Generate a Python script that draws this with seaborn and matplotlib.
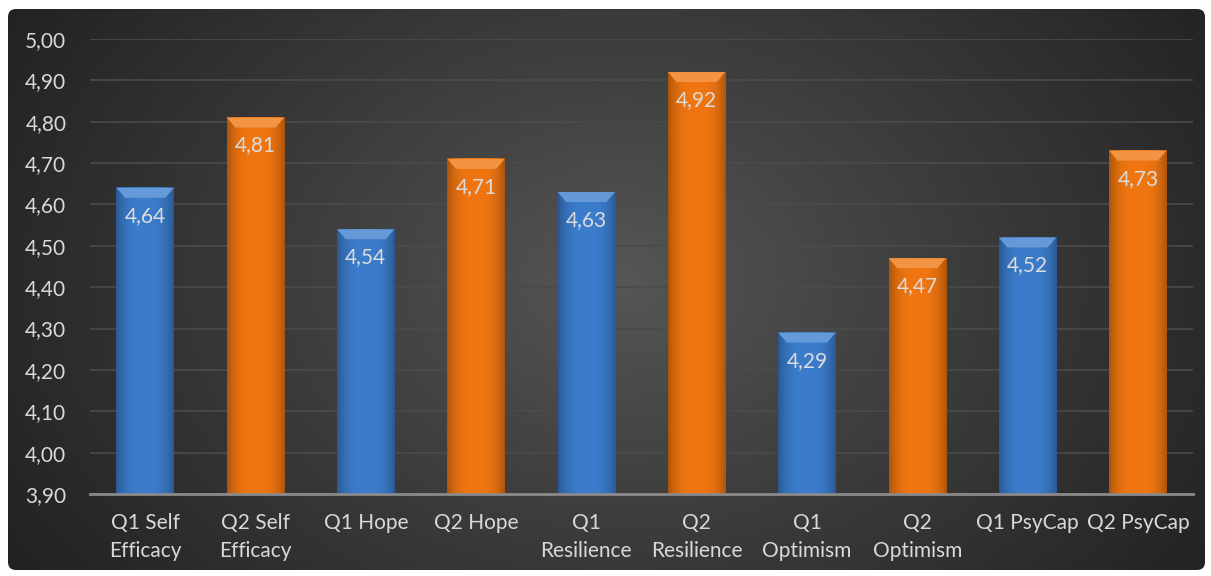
import numpy as np
import pandas as pd
import matplotlib
matplotlib.use("Agg")
import matplotlib.pyplot as plt
import seaborn as sns
from matplotlib.patches import FancyBboxPatch, Polygon
from matplotlib.colors import to_rgb

categories = ["Q1 Self\nEfficacy", "Q2 Self\nEfficacy", "Q1 Hope", "Q2 Hope",
              "Q1\nResilience", "Q2\nResilience", "Q1\nOptimism", "Q2\nOptimism",
              "Q1 PsyCap", "Q2 PsyCap"]
values = [4.64, 4.81, 4.54, 4.71, 4.63, 4.92, 4.29, 4.47, 4.52, 4.73]
series = ["Q1", "Q2", "Q1", "Q2", "Q1", "Q2", "Q1", "Q2", "Q1", "Q2"]
yticks = [3.90, 4.00, 4.10, 4.20, 4.30, 4.40, 4.50, 4.60, 4.70, 4.80, 4.90, 5.00]
palette = {"Q1": "#3b7ccc", "Q2": "#f07611"}

df = pd.DataFrame({"cat": categories, "val": values, "series": series})

sns.set_theme(style="dark")
plt.rcParams["font.family"] = ["Lato", "DejaVu Sans"]

W, H = 1211, 576
fig = plt.figure(figsize=(W / 100, H / 100), dpi=100)
fig.patch.set_facecolor("white")

# background panel with radial gradient
bg = fig.add_axes([0, 0, 1, 1])
bg.set_xlim(0, W)
bg.set_ylim(H, 0)
bg.axis("off")
yy, xx = np.mgrid[0:H, 0:W]
r = np.sqrt(((xx - 620) / 760.0) ** 2 + ((yy - 280) / 560.0) ** 2)
r = np.clip(r, 0, 1)
c_in = np.array(to_rgb("#575757"))
c_out = np.array(to_rgb("#1f1f1f"))
t = r[..., None] ** 0.9
img = c_in * (1 - t) + c_out * t
im = bg.imshow(img, extent=(0, W, H, 0), aspect="auto", zorder=0)
panel = FancyBboxPatch((8, 9), 1197, 561, boxstyle="round,pad=0,rounding_size=8",
                       transform=bg.transData, fc="none", ec="none")
bg.add_patch(panel)
im.set_clip_path(panel)

ax = fig.add_axes([90 / W, (H - 494) / H, 1103 / W, 455 / H])
ax.patch.set_alpha(0)
sns.barplot(data=df, x="cat", y="val", hue="series", palette=palette,
            dodge=False, width=0.52, ax=ax, legend=False, saturation=1,
            linewidth=0, zorder=3)
ax.set_ylim(3.9, 5.0)
ax.set_xlim(-0.5, len(categories) - 0.5)
ax.set_yticks(yticks)
ax.set_yticklabels([f"{v:.2f}".replace(".", ",") for v in yticks])
ax.set_xlabel("")
ax.set_ylabel("")
for s in ["top", "left", "right"]:
    ax.spines[s].set_visible(False)
ax.spines["bottom"].set_color("#8a8a8a")
ax.spines["bottom"].set_linewidth(2)
ax.spines["bottom"].set_zorder(6)
ax.yaxis.grid(True, color="#4b4b4b", linewidth=1.2, zorder=0)
ax.xaxis.grid(False)
ax.set_axisbelow(True)
ax.tick_params(axis="both", length=0, colors="#d9d9d9", labelsize=15)
ax.tick_params(axis="y", pad=17)
ax.tick_params(axis="x", pad=14)
for lab in ax.get_xticklabels():
    lab.set_linespacing(1.45)

ymin = 3.9
bars = list(ax.patches)
for p in bars:
    x0 = p.get_x()
    w = p.get_width()
    top = p.get_height()
    i = int(round(x0 + w / 2))
    v = values[i]
    s = series[i]
    base = np.array(to_rgb(palette[s]))
    p.set_visible(False)
    # horizontal shading: darker at edges
    prof = np.linspace(-1, 1, 60)
    shade = 1 - 0.28 * np.abs(prof) ** 3
    g = np.clip(base[None, None, :] * shade[None, :, None], 0, 1)
    ax.imshow(g, extent=(x0, x0 + w, ymin, top), aspect="auto", zorder=4,
              interpolation="bilinear")
    # top bevel
    dx = w * 0.15
    dy = 0.024
    light = np.clip(base + (1 - base) * 0.22, 0, 1)
    ax.add_patch(Polygon([(x0, top), (x0 + w, top), (x0 + w - dx, top - dy), (x0 + dx, top - dy)],
                         closed=True, fc=light, ec="none", zorder=5))
    ax.annotate(f"{v:.2f}".replace(".", ","), (x0 + w / 2, top), xytext=(0, -28),
                textcoords="offset pixels", ha="center", va="center",
                color="#dcdcdc", fontsize=15, zorder=7)

ax.set_xlim(-0.5, len(categories) - 0.5)
ax.set_ylim(3.9, 5.0)
fig.savefig("out.png", dpi=100)
